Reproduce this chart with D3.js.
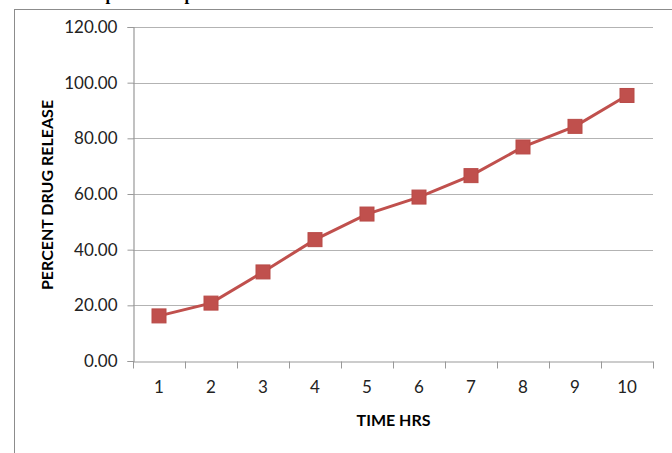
<!DOCTYPE html>
<html>
<head>
<meta charset="utf-8">
<script src="https://cdn.jsdelivr.net/npm/d3@7"></script>
<style>
  body { margin: 0; background: #fff; }
  svg { display: block; }
</style>
</head>
<body>
<div id="chart"></div>
<script>
// chart data
const hours = ["1", "2", "3", "4", "5", "6", "7", "8", "9", "10"];
const release = [16.2, 20.8, 32.0, 43.6, 52.8, 58.9, 66.6, 76.9, 84.3, 95.4];
const yTicks = [0, 20, 40, 60, 80, 100, 120];

const width = 672;
const height = 453;
const margin = { top: 27, right: 19, bottom: 92, left: 133 };
const font = "Lato, Open Sans, sans-serif";

const svg = d3.select("#chart")
    .append("svg")
    .attr("width", width)
    .attr("height", height);

// cut-off caption at the very top
svg.append("text")
    .attr("x", 20)
    .attr("y", 0)
    .style("font-family", "Liberation Serif, serif")
    .style("font-weight", "bold")
    .style("font-size", "17px")
    .text("Dissolution profile of optimized formulations");

// outer chart frame
svg.append("rect")
    .attr("x", 14.5)
    .attr("y", 9.5)
    .attr("width", 700)
    .attr("height", 500)
    .attr("fill", "none")
    .attr("stroke", "#8c8c8c")
    .attr("stroke-width", 1);

const xScale = d3.scaleBand()
    .domain(hours)
    .range([margin.left, width - margin.right]);

const yScale = d3.scaleLinear()
    .domain([0, 120])
    .range([height - margin.bottom, margin.top]);

// gridlines
svg.append("g")
    .selectAll("line")
    .data(yTicks.filter(d => d > 0))
    .enter()
    .append("line")
    .attr("x1", margin.left)
    .attr("x2", width - margin.right)
    .attr("y1", d => Math.round(yScale(d)) + 0.5)
    .attr("y2", d => Math.round(yScale(d)) + 0.5)
    .attr("stroke", "#b3b3b3")
    .attr("stroke-width", 1.2);

// y axis
const yAxis = d3.axisLeft(yScale)
    .tickValues(yTicks)
    .tickFormat(d3.format(".2f"))
    .tickSize(6)
    .tickPadding(10);

const yG = svg.append("g")
    .attr("transform", `translate(${margin.left + 0.5}, 0)`)
    .call(yAxis);

// x axis
const xAxis = d3.axisBottom(xScale).tickSize(0).tickPadding(19);
const xG = svg.append("g")
    .attr("transform", `translate(0, ${Math.round(yScale(0)) + 0.5})`)
    .call(xAxis);

// category boundary ticks
const bounds = hours.map(h => xScale(h)).concat([width - margin.right]);
xG.selectAll(".bound")
    .data(bounds)
    .enter()
    .append("line")
    .attr("class", "bound")
    .attr("x1", d => Math.round(d) + 0.5)
    .attr("x2", d => Math.round(d) + 0.5)
    .attr("y1", 0)
    .attr("y2", 7)
    .attr("stroke", "#999");

[yG, xG].forEach(g => {
    g.select(".domain").attr("stroke", "#999").attr("stroke-width", 1.2);
    g.selectAll(".tick line").attr("stroke", "#999");
    g.selectAll(".tick text")
        .style("font-family", font)
        .style("font-size", "17px")
        .style("fill", "#222");
});

// axis titles
svg.append("text")
    .attr("text-anchor", "middle")
    .attr("transform", `translate(${(margin.left + width - margin.right) / 2 + 0.5}, 426)`)
    .style("font-family", font)
    .style("font-weight", "bold")
    .style("font-size", "16px")
    .text("TIME HRS");

svg.append("text")
    .attr("text-anchor", "middle")
    .attr("transform", `translate(53, 195) rotate(-90)`)
    .style("font-family", font)
    .style("font-weight", "bold")
    .style("font-size", "16px")
    .text("PERCENT DRUG RELEASE");

// line and markers
const points = hours.map((h, i) => [xScale(h) + xScale.bandwidth() / 2, yScale(release[i])]);

svg.append("path")
    .datum(points)
    .attr("d", d3.line())
    .attr("fill", "none")
    .attr("stroke", "#c0504d")
    .attr("stroke-width", 3);

svg.selectAll(".marker")
    .data(points)
    .enter()
    .append("rect")
    .attr("class", "marker")
    .attr("x", d => d[0] - 7)
    .attr("y", d => d[1] - 7)
    .attr("width", 14)
    .attr("height", 14)
    .attr("fill", "#c0504d")
    .attr("stroke", "#b84a47")
    .attr("stroke-width", 1);
</script>
</body>
</html>
